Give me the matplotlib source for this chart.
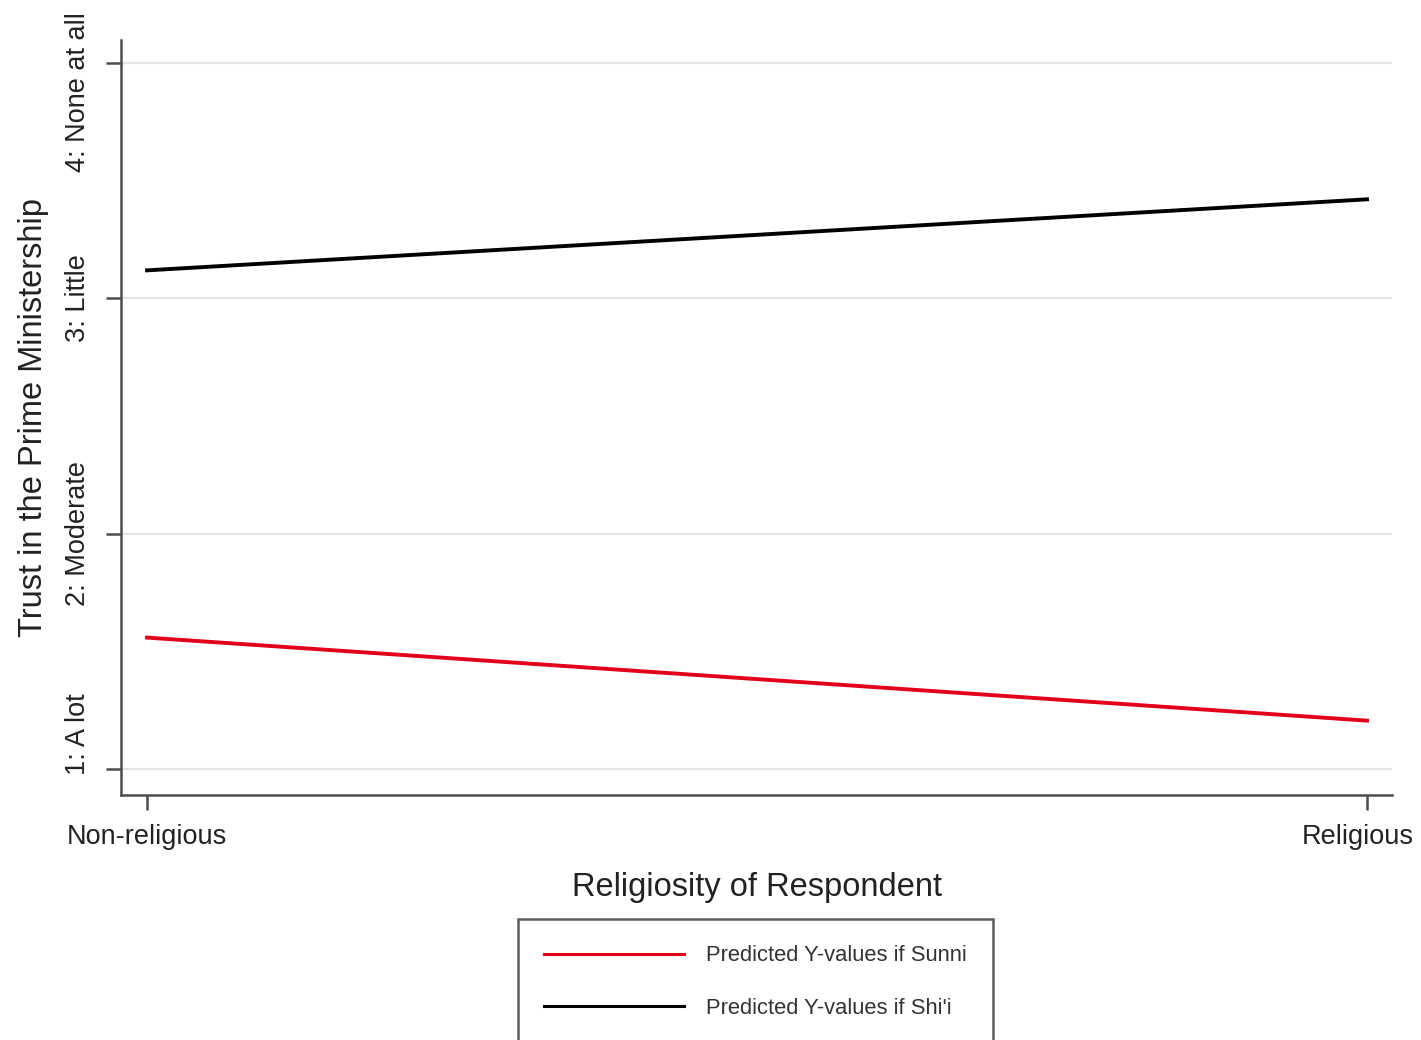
import matplotlib
matplotlib.use("Agg")
import matplotlib.pyplot as plt
from matplotlib.transforms import ScaledTranslation

plt.rcParams['font.family'] = ['Liberation Sans', 'DejaVu Sans']

# Predicted trust in the Prime Ministership by religiosity
x_positions = [0, 1]
x_labels = ["Non-religious", "Religious"]
y_ticks = [1, 2, 3, 4]
y_labels = ["1: A lot", "2: Moderate", "3: Little", "4: None at all"]
sunni = [1.558, 1.205]
shii = [3.119, 3.421]

fig = plt.figure(figsize=(14.21, 10.40), dpi=100)
ax = fig.add_axes([0.0852, 0.2356, 0.8944, 0.7259])

spine_col = "#4d4d4d"
ax.set_xlim(-0.0213, 1.0205)
ax.set_ylim(0.889, 4.098)

for y in y_ticks:
    ax.axhline(y, color="#e4e4e4", lw=1.6, zorder=0)

l1, = ax.plot(x_positions, sunni, color="#e3001b", lw=2.8, label="Predicted Y-values if Sunni")
l2, = ax.plot(x_positions, shii, color="#000000", lw=2.8, label="Predicted Y-values if Shi'i")

for s in ["top", "right"]:
    ax.spines[s].set_visible(False)
for s in ["left", "bottom"]:
    ax.spines[s].set_color(spine_col)
    ax.spines[s].set_linewidth(1.8)

ax.set_xticks(x_positions)
ax.set_xticklabels(x_labels, fontsize=19.5, color="#222222")
ax.set_yticks(y_ticks)
ax.set_yticklabels(y_labels, fontsize=19.5, rotation=90, va="center", color="#222222")
ax.tick_params(axis="both", direction="out", length=11, width=1.8, color=spine_col)
ax.tick_params(axis="x", pad=10)
ax.tick_params(axis="y", pad=11)

# keep the outer labels inside the plot's vertical span
ylabs = ax.get_yticklabels()
ylabs[0].set_va("bottom")
ylabs[0].set_transform(ylabs[0].get_transform() + ScaledTranslation(0, -6 / 100, fig.dpi_scale_trans))
ylabs[3].set_va("top")
ylabs[3].set_transform(ylabs[3].get_transform() + ScaledTranslation(0, 51 / 100, fig.dpi_scale_trans))
xlabs = ax.get_xticklabels()
xlabs[1].set_transform(xlabs[1].get_transform() + ScaledTranslation(-9 / 100, 0, fig.dpi_scale_trans))

ax.set_xlabel("Religiosity of Respondent", fontsize=23.5, color="#222222", labelpad=16)
ax.set_ylabel("Trust in the Prime Ministership", fontsize=23.5, color="#222222", labelpad=11)

leg = fig.legend(handles=[l1, l2], loc="upper center",
                 bbox_to_anchor=(755.5 / 1421, 1 - 919 / 1040),
                 fontsize=15.8, frameon=True, fancybox=False,
                 handlelength=6.4, handletextpad=1.0, labelspacing=1.45,
                 borderpad=1.2, borderaxespad=0)
leg.get_frame().set_edgecolor("#333333")
leg.get_frame().set_linewidth(1.8)
for t in leg.get_texts():
    t.set_color("#333333")
for h in leg.get_lines():
    h.set_linewidth(2.2)

fig.savefig("out.png", dpi=100, facecolor="white")
